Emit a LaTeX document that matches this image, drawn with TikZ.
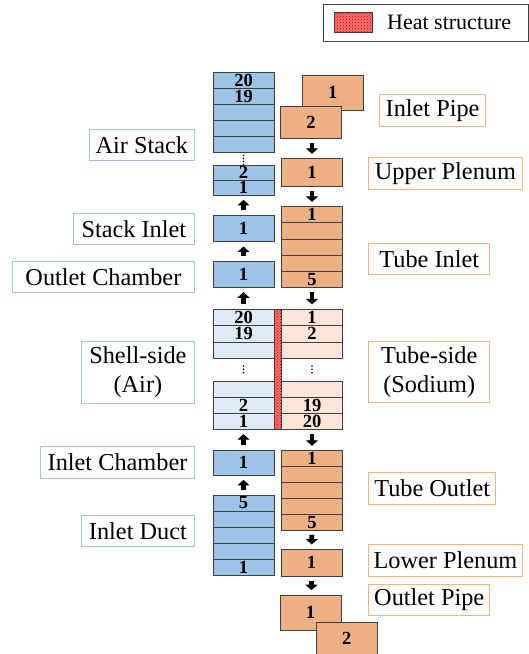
\documentclass[tikz,border=0pt]{standalone}
\usepackage{fontspec}
\setmainfont{Liberation Serif}
\usetikzlibrary{arrows.meta,patterns}
\definecolor{airblue}{RGB}{157,195,230}
\definecolor{tubeorange}{RGB}{237,175,132}
\definecolor{shellblue}{RGB}{222,235,247}
\definecolor{tubelight}{RGB}{251,229,214}
\definecolor{cellborder}{RGB}{64,64,64}
\definecolor{lblblue}{RGB}{157,195,230}
\definecolor{lblorange}{RGB}{244,177,131}
\definecolor{heatred}{RGB}{255,110,110}
\begin{document}
\begin{tikzpicture}[x=1pt,y=-1pt,
  cell/.style={draw=cellborder, line width=0.8pt, inner sep=0pt, minimum width=61pt,
    font=\fontsize{18.5}{18.5}\selectfont\bfseries},
  bcell/.style={cell, fill=airblue},
  ocell/.style={cell, fill=tubeorange},
  sbcell/.style={cell, fill=shellblue},
  tocell/.style={cell, fill=tubelight},
  flow/.style={-{Triangle[width=12pt,length=5.5pt]}, line width=4.8pt, shorten <=4.5pt, shorten >=4.5pt},
  lbl/.style={line width=0.9pt, inner sep=0pt, minimum height=31.5pt,
    font=\fontsize{24.3}{29}\selectfont, fill=white},
  blabel/.style={lbl, draw=lblblue},
  olabel/.style={lbl, draw=lblorange}
]
\useasboundingbox (0,0) rectangle (529,654);

% legend
\node[draw=cellborder, line width=0.8pt, minimum width=205pt, minimum height=36.7pt, anchor=north west, inner sep=0pt] (legend) at (322.5,4) {};
\node[draw=cellborder, line width=0.5pt, fill=heatred, postaction={pattern=crosshatch dots, pattern color=red!70!black},
  minimum width=38.4pt, minimum height=20.4pt, inner sep=0pt] (swatch) at (353.5,22.5) {};
\node[anchor=west, inner sep=0pt, font=\fontsize{22}{24}\selectfont] (legtext) at (387,22.5) {Heat structure};

% ---------------- left column (air) ----------------
\node[bcell, minimum height=16pt] (as20) at (243.5,80) {20};
\node[bcell, minimum height=16pt] (as19) at (243.5,96) {19};
\node[bcell, minimum height=16pt] (as18) at (243.5,112) {};
\node[bcell, minimum height=16pt] (as17) at (243.5,128) {};
\node[bcell, minimum height=16pt] (as16) at (243.5,144) {};
\foreach \yy in {155.5,158.5,161.5,164.5} \fill (243.5,\yy) circle (0.9pt);
\node[bcell, minimum height=15pt] (as2) at (243.5,172.5) {2};
\node[bcell, minimum height=15pt] (as1) at (243.5,187.5) {1};

\node[bcell, minimum height=26.7pt] (si) at (243.5,228.3) {1};
\node[bcell, minimum height=26.3pt] (oc) at (243.5,274.2) {1};

\node[sbcell, minimum height=16.3pt] (sh20) at (243.5,317.45) {20};
\node[sbcell, minimum height=16.3pt] (sh19) at (243.5,333.75) {19};
\node[sbcell, minimum height=16.3pt] (sh18) at (243.5,350.05) {};
\foreach \yy in {366,369.3,372.6} \fill (243.5,\yy) circle (0.9pt);
\node[sbcell, minimum height=16.1pt] (sh3) at (243.5,389.05) {};
\node[sbcell, minimum height=16.1pt] (sh2) at (243.5,405.15) {2};
\node[sbcell, minimum height=16.1pt] (sh1) at (243.5,421.25) {1};

\node[bcell, minimum height=25pt] (ic) at (243.5,462.5) {1};

\node[bcell, minimum height=16pt] (id5) at (243.5,503) {5};
\node[bcell, minimum height=16pt] (id4) at (243.5,519) {};
\node[bcell, minimum height=16pt] (id3) at (243.5,535) {};
\node[bcell, minimum height=16pt] (id2) at (243.5,551) {};
\node[bcell, minimum height=16pt] (id1) at (243.5,567) {1};

% ---------------- right column (sodium) ----------------
\node[ocell, minimum height=35.7pt] (ip1) at (332.8,92.8) {1};
\node[ocell, minimum height=32pt] (ip2) at (311,122.3) {2};
\node[ocell, minimum height=27.3pt] (up) at (312,172.3) {1};

\node[ocell, minimum height=16.1pt] (ti1) at (312,214.75) {1};
\node[ocell, minimum height=16.1pt] (ti2) at (312,230.85) {};
\node[ocell, minimum height=16.1pt] (ti3) at (312,246.95) {};
\node[ocell, minimum height=16.1pt] (ti4) at (312,263.05) {};
\node[ocell, minimum height=16.1pt] (ti5) at (312,279.15) {5};

\node[tocell, minimum height=16.3pt] (ts1) at (312,317.45) {1};
\node[tocell, minimum height=16.3pt] (ts2) at (312,333.75) {2};
\node[tocell, minimum height=16.3pt] (ts3) at (312,350.05) {};
\foreach \yy in {366,369.3,372.6} \fill (312,\yy) circle (0.9pt);
\node[tocell, minimum height=16.1pt] (ts18) at (312,389.05) {};
\node[tocell, minimum height=16.1pt] (ts19) at (312,405.15) {19};
\node[tocell, minimum height=16.1pt] (ts20) at (312,421.25) {20};

\node[ocell, minimum height=15.86pt] (to1) at (312,458.6) {1};
\node[ocell, minimum height=15.86pt] (to2) at (312,474.5) {};
\node[ocell, minimum height=15.86pt] (to3) at (312,490.4) {};
\node[ocell, minimum height=15.86pt] (to4) at (312,506.2) {};
\node[ocell, minimum height=15.86pt] (to5) at (312,522.1) {5};

\node[ocell, minimum height=26.7pt] (lp) at (311.5,562.7) {1};
\node[ocell, minimum height=35.5pt] (op1) at (310.5,612.8) {1};
\node[ocell, minimum height=35pt] (op2) at (346.7,639.8) {\raisebox{3pt}{2}};

% heat structure strip
\node[draw=cellborder, line width=0.5pt, fill=heatred, postaction={pattern=crosshatch dots, pattern color=red!70!black},
  minimum width=7.5pt, minimum height=120pt, inner sep=0pt] (hs) at (277.75,369.3) {};

% ---------------- flow arrows ----------------
\draw[flow] (si.north) -- (as1.south);
\draw[flow] (oc.north) -- (si.south);
\draw[flow] (sh20.north) -- (oc.south);
\draw[flow] (ic.north) -- (sh1.south);
\draw[flow] (id5.north) -- (ic.south);

\draw[flow] (ip2.south -| up.north) -- (up.north);
\draw[flow] (up.south) -- (ti1.north);
\draw[flow] (ti5.south) -- (ts1.north);
\draw[flow] (ts20.south) -- (to1.north);
\draw[flow] (to5.south) -- (lp.north);
\draw[flow] (lp.south) -- (lp.south |- op1.north);

% ---------------- labels ----------------
\node[blabel, anchor=east, minimum width=105.4pt] (lAir) at (195,144.7) {Air Stack};
\node[blabel, anchor=east, minimum width=121.4pt] (lStackIn) at (195,228.8) {Stack Inlet};
\node[blabel, anchor=east, minimum width=182.3pt] (lOutCh) at (195,276.7) {Outlet Chamber};
\node[blabel, anchor=east, minimum width=113.3pt, minimum height=61.6pt, align=center] (lShell) at (195,372.5) {Shell-side\\(Air)};
\node[blabel, anchor=east, minimum width=154pt] (lInCh) at (195,462.5) {Inlet Chamber};
\node[blabel, anchor=east, minimum width=113.3pt] (lInDuct) at (195,530.8) {Inlet Duct};

\node[olabel, anchor=west, minimum width=105.7pt] (rInPipe) at (379.3,110.5) {Inlet Pipe};
\node[olabel, anchor=west, minimum width=153.4pt] (rUpPl) at (368.3,173.2) {Upper Plenum};
\node[olabel, anchor=west, minimum width=121pt] (rTubeIn) at (368.3,258.8) {Tube Inlet};
\node[olabel, anchor=west, minimum width=121pt, minimum height=60.6pt, align=center] (rTube) at (368.3,372) {Tube-side\\(Sodium)};
\node[olabel, anchor=west, minimum width=127pt] (rTubeOut) at (368.3,488.3) {Tube Outlet};
\node[olabel, anchor=west, minimum width=153.4pt] (rLowPl) at (368.3,560.5) {Lower Plenum};
\node[olabel, anchor=west, minimum width=121pt] (rOutPipe) at (368.3,600) {Outlet Pipe};
\end{tikzpicture}
\end{document}
